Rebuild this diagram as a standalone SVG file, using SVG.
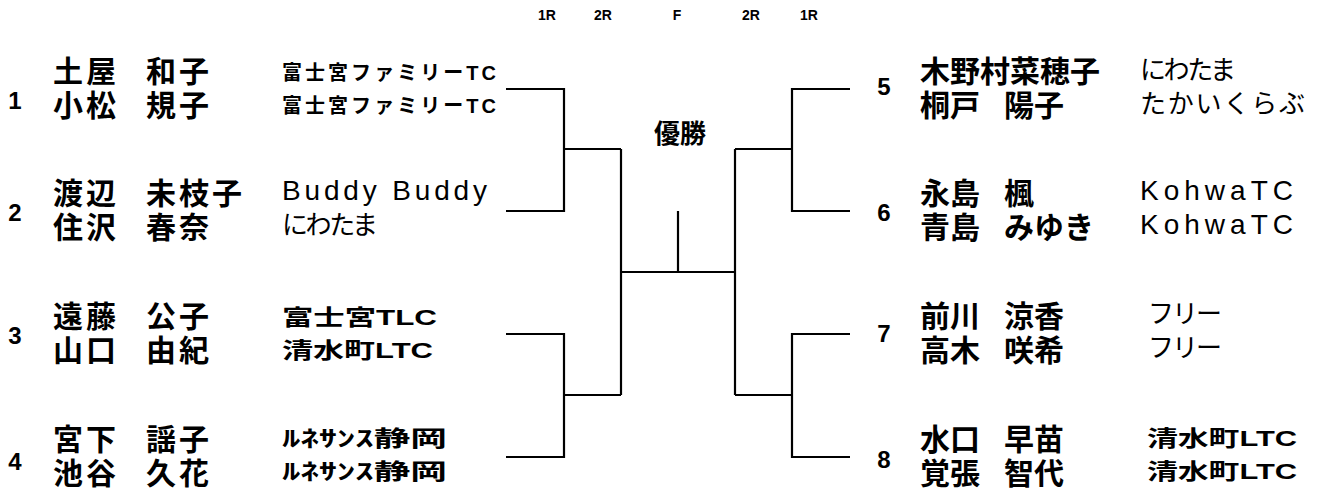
<svg xmlns="http://www.w3.org/2000/svg" width="1328" height="499" viewBox="0 0 1328 499">
<style>
.hd{font-family:"Liberation Sans",Arial,sans-serif;font-weight:bold;font-size:14px;text-anchor:middle}
.num{font-family:"Liberation Sans",Arial,sans-serif;font-weight:bold;font-size:24px;text-anchor:middle}
.nm{font-family:"Noto Sans CJK JP",sans-serif;font-weight:bold;font-size:30px}
.nl{letter-spacing:3px}
.cb{font-family:"Liberation Sans","Noto Sans CJK JP",sans-serif;font-weight:bold;font-size:22px}
.cs{font-family:"Liberation Sans","Noto Sans CJK JP",sans-serif;font-weight:bold;font-size:20px}
.cr{font-family:"Liberation Sans","Noto Sans CJK JP",sans-serif;font-size:26px}
.cl{font-family:"Liberation Sans",Arial,sans-serif;font-size:28px}
.win{font-family:"Noto Sans CJK JP",sans-serif;font-weight:bold;font-size:26px;text-anchor:middle}
.ln{fill:none;stroke:#000;stroke-width:2.2}
</style>
<rect width="1328" height="499" fill="#fff"/>
<g id="header">
<text class="hd" x="547" y="20">1R</text>
<text class="hd" x="603" y="20">2R</text>
<text class="hd" x="677" y="20">F</text>
<text class="hd" x="751" y="20">2R</text>
<text class="hd" x="809" y="20">1R</text>
</g>
<g id="connectors" class="ln">
<path d="M506,89H564V211H506"/>
<path d="M564,149H621"/>
<path d="M506,334H564V457H506"/>
<path d="M564,395H621"/>
<path d="M621,149V395"/>
<path d="M621,272H735"/>
<path d="M678,211V272"/>
<path d="M850,89H792V211H850"/>
<path d="M792,149H735"/>
<path d="M850,334H792V457H850"/>
<path d="M792,395H735"/>
<path d="M735,149V395"/>
</g>
<g id="winner"><text class="win" x="680" y="143">優勝</text></g>
<g id="entry1">
<text class="num" x="15" y="109">1</text>
<text class="nm nl" y="82"><tspan x="53">土屋 </tspan><tspan x="146">和子</tspan></text>
<text class="nm nl" y="116"><tspan x="53">小松 </tspan><tspan x="146">規子</tspan></text>
<text class="cs" x="282" y="80" textLength="214" lengthAdjust="spacing">富士宮ファミリーTC</text>
<text class="cs" x="282" y="113" textLength="214" lengthAdjust="spacing">富士宮ファミリーTC</text>
</g>
<g id="entry2">
<text class="num" x="15" y="221">2</text>
<text class="nm nl" y="204"><tspan x="53">渡辺 </tspan><tspan x="146">未枝子</tspan></text>
<text class="nm nl" y="238"><tspan x="53">住沢 </tspan><tspan x="146">春奈</tspan></text>
<text class="cl" x="282" y="200" textLength="205" lengthAdjust="spacing">Buddy Buddy</text>
<text class="cr" x="282" y="234" textLength="96" lengthAdjust="spacing">にわたま</text>
</g>
<g id="entry3">
<text class="num" x="15" y="344">3</text>
<text class="nm nl" y="327"><tspan x="53">遠藤 </tspan><tspan x="146">公子</tspan></text>
<text class="nm nl" y="361"><tspan x="53">山口 </tspan><tspan x="146">由紀</tspan></text>
<text class="cb" x="282" y="325" textLength="155" lengthAdjust="spacingAndGlyphs">富士宮TLC</text>
<text class="cb" x="282" y="358" textLength="151" lengthAdjust="spacingAndGlyphs">清水町LTC</text>
</g>
<g id="entry4">
<text class="num" x="15" y="470">4</text>
<text class="nm nl" y="450"><tspan x="53">宮下 </tspan><tspan x="146">謡子</tspan></text>
<text class="nm nl" y="484"><tspan x="53">池谷 </tspan><tspan x="146">久花</tspan></text>
<text class="cb" x="282" y="446" textLength="165" lengthAdjust="spacingAndGlyphs">ﾙﾈｻﾝｽ静岡</text>
<text class="cb" x="282" y="479" textLength="165" lengthAdjust="spacingAndGlyphs">ﾙﾈｻﾝｽ静岡</text>
</g>
<g id="entry5">
<text class="num" x="884" y="95">5</text>
<text class="nm" x="920" y="82">木野村菜穂子</text>
<text class="nm" y="116"><tspan x="920">桐戸 </tspan><tspan x="1004">陽子</tspan></text>
<text class="cr" x="1140" y="79" textLength="96" lengthAdjust="spacing">にわたま</text>
<text class="cr" x="1140" y="113" textLength="165" lengthAdjust="spacing">たかいくらぶ</text>
</g>
<g id="entry6">
<text class="num" x="884" y="221">6</text>
<text class="nm" y="204"><tspan x="920">永島 </tspan><tspan x="1004">楓</tspan></text>
<text class="nm" y="238"><tspan x="920">青島 </tspan><tspan x="1004">みゆき</tspan></text>
<text class="cl" x="1140" y="200" textLength="153" lengthAdjust="spacing">KohwaTC</text>
<text class="cl" x="1140" y="234" textLength="153" lengthAdjust="spacing">KohwaTC</text>
</g>
<g id="entry7">
<text class="num" x="884" y="342">7</text>
<text class="nm" y="327"><tspan x="920">前川 </tspan><tspan x="1004">涼香</tspan></text>
<text class="nm" y="361"><tspan x="920">高木 </tspan><tspan x="1004">咲希</tspan></text>
<text class="cr" x="1148" y="323" textLength="74" lengthAdjust="spacing">フリー</text>
<text class="cr" x="1148" y="357" textLength="74" lengthAdjust="spacing">フリー</text>
</g>
<g id="entry8">
<text class="num" x="884" y="468">8</text>
<text class="nm" y="450"><tspan x="920">水口 </tspan><tspan x="1004">早苗</tspan></text>
<text class="nm" y="484"><tspan x="920">覚張 </tspan><tspan x="1004">智代</tspan></text>
<text class="cb" x="1147" y="446" textLength="150" lengthAdjust="spacingAndGlyphs">清水町LTC</text>
<text class="cb" x="1147" y="479" textLength="150" lengthAdjust="spacingAndGlyphs">清水町LTC</text>
</g>
</svg>
